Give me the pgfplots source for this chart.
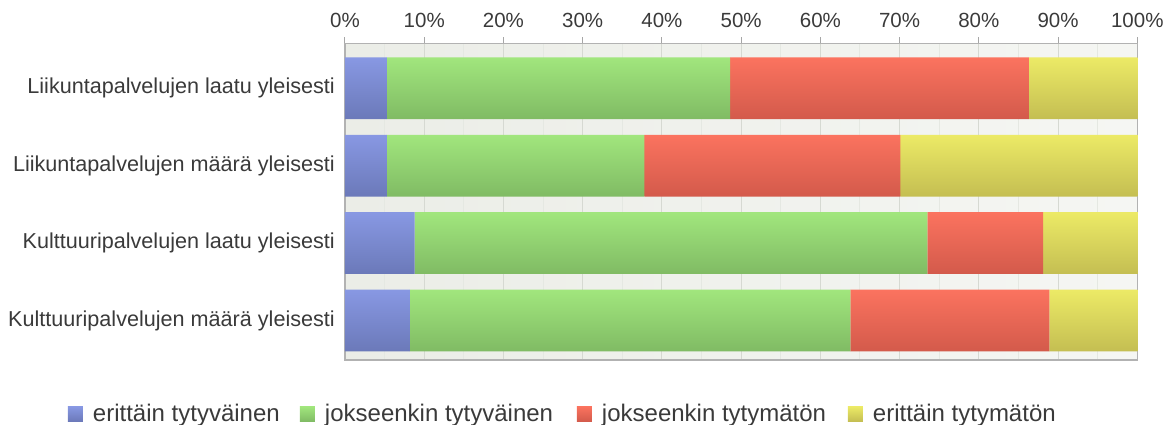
\documentclass[border=0pt]{standalone}
\usepackage{pgfplots}
\pgfplotsset{compat=1.18}
\usepackage{fontspec}
\setmainfont{Liberation Sans}
\definecolor{txt}{HTML}{3A3A3A}
\definecolor{bTop}{HTML}{8898E3}
\definecolor{bBot}{HTML}{6B79B9}
\definecolor{gTop}{HTML}{A1E67D}
\definecolor{gBot}{HTML}{80BB64}
\definecolor{rTop}{HTML}{FB735F}
\definecolor{rBot}{HTML}{D35A4B}
\definecolor{yTop}{HTML}{ECEA66}
\definecolor{yBot}{HTML}{C4BE52}
\definecolor{bgL}{HTML}{EBEDE7}
\definecolor{bgR}{HTML}{F5F6F3}
\definecolor{gridc}{HTML}{D6D9D2}
% one vertical gradient per bar row (4 rows, mapped onto the series' bounding box)
\newcommand\rowshade[3]{\pgfdeclareverticalshading{#1}{100bp}{color(0bp)=(#3); color(25bp)=(#3); color(35.495bp)=(#2);
  color(38.168bp)=(#3); color(48.663bp)=(#2); color(51.337bp)=(#3); color(61.832bp)=(#2);
  color(64.505bp)=(#3); color(75bp)=(#2); color(100bp)=(#2)}}
\rowshade{shB}{bTop}{bBot}
\rowshade{shG}{gTop}{gBot}
\rowshade{shR}{rTop}{rBot}
\rowshade{shY}{yTop}{yBot}
\begin{document}
\begin{tikzpicture}
\begin{axis}[
  at={(0,0)}, anchor=south west,
  scale only axis, width=792.3bp, height=316.5bp,
  xbar stacked, bar width=61.7bp,
  xmin=0, xmax=100, ymin=-0.51, ymax=3.578,
  axis background/.style={left color=bgL, right color=bgR},
  xtick={0,10,...,100},
  xticklabels={0\%,10\%,20\%,30\%,40\%,50\%,60\%,70\%,80\%,90\%,100\%},
  xticklabel pos=upper, xtick pos=upper,
  tick align=outside, major tick length=6bp,
  minor x tick num=1, minor tick length=0pt,
  xmajorgrids, xminorgrids,
  major grid style={gridc, line width=1bp},
  minor grid style={gridc!50!bgR, line width=1bp},
  x tick style={gray!70, line width=1bp},
  axis line style={gray!60, line width=1.2bp},
  ytick={0,1,2,3},
  yticklabels={Kulttuuripalvelujen määrä yleisesti,Kulttuuripalvelujen laatu yleisesti,Liikuntapalvelujen määrä yleisesti,Liikuntapalvelujen laatu yleisesti},
  y tick style={draw=none},
  xticklabel style={font=\fontsize{20.5bp}{24bp}\selectfont, text=txt, yshift=6bp},
  yticklabel style={font=\fontsize{21.6bp}{25bp}\selectfont, text=txt, inner xsep=0pt, xshift=-4bp},
  legend columns=4,
  legend style={at={(axis description cs:0,0)}, anchor=west, xshift=-277bp, yshift=-54bp,
    draw=none, fill=none, inner sep=0pt, outer sep=0pt,
    nodes={inner sep=0pt, text=txt, font=\fontsize{24bp}{28bp}\selectfont},
    /tikz/every odd column/.append style={column sep=10bp}},
]
\addplot[draw=none, shade, shading=shB,
  legend image code/.code={\path[top color=bTop, bottom color=bBot] (0bp,-7.5bp) rectangle (15bp,7.5bp);}]
  coordinates {(8.2,0) (8.8,1) (5.3,2) (5.3,3)};
\addplot[draw=none, shade, shading=shG,
  legend image code/.code={\path[top color=gTop, bottom color=gBot] (0bp,-7.5bp) rectangle (15bp,7.5bp);}]
  coordinates {(55.6,0) (64.7,1) (32.5,2) (43.3,3)};
\addplot[draw=none, shade, shading=shR,
  legend image code/.code={\path[top color=rTop, bottom color=rBot] (0bp,-7.5bp) rectangle (15bp,7.5bp);}]
  coordinates {(25.1,0) (14.6,1) (32.3,2) (37.7,3)};
\addplot[draw=none, shade, shading=shY,
  legend image code/.code={\path[top color=yTop, bottom color=yBot] (0bp,-7.5bp) rectangle (15bp,7.5bp);}]
  coordinates {(11.1,0) (11.9,1) (29.9,2) (13.7,3)};
\legend{\makebox[207bp][l]{erittäin tytyväinen},\makebox[252bp][l]{jokseenkin tytyväinen},\makebox[246bp][l]{jokseenkin tytymätön},erittäin tytymätön}
\end{axis}
\pgfresetboundingbox
\path[use as bounding box] (-345bp,-65bp) rectangle (820bp,360bp);
\end{tikzpicture}
\end{document}
